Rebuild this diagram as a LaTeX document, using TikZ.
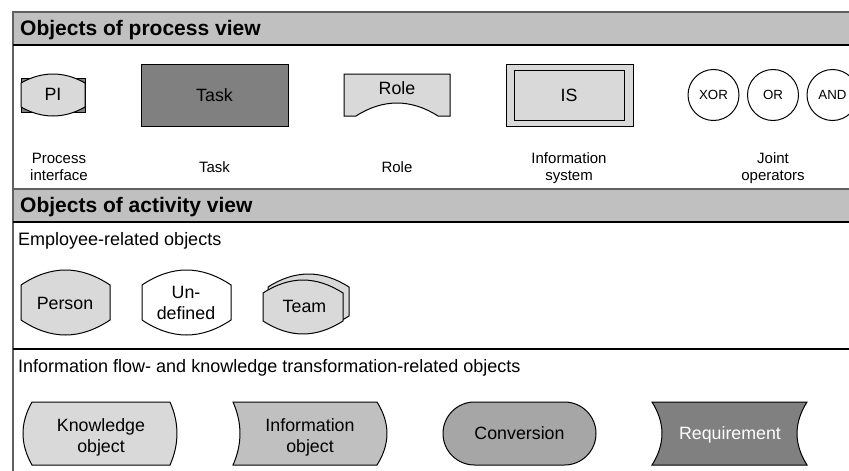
\documentclass[tikz,border=0pt]{standalone}
\usepackage{fontspec}
\setmainfont{Liberation Sans}
\usetikzlibrary{positioning}

\definecolor{hdrgray}{HTML}{C0C0C0}
\definecolor{ltgray}{HTML}{D9D9D9}
\definecolor{midgray}{HTML}{A6A6A6}
\definecolor{dkgray}{HTML}{808080}
\definecolor{framegray}{HTML}{606060}

\begin{document}
\begin{tikzpicture}[
  x=1pt,y=-1pt,
  outline/.style={draw=black,line width=1pt},
  shapetext/.style={font=\fontsize{17.8}{21}\selectfont,align=center,inner sep=0pt},
  caption/.style={font=\fontsize{15}{17}\selectfont,align=center,inner sep=0pt},
  heading/.style={font=\fontsize{21}{25}\selectfont\bfseries,anchor=base west,inner sep=0pt},
  subheading/.style={font=\fontsize{18}{21}\selectfont,anchor=base west,inner sep=0pt},
  joint/.style={circle,outline,fill=white,minimum size=51pt,inner sep=0pt,
    font=\fontsize{13.3}{16}\selectfont}
]
  \useasboundingbox (0,0) rectangle (849,471);
  \clip (0,0) rectangle (849,471);

  % Frame and heading bars
  \fill[hdrgray] (13,12) rectangle (860,45);
  \fill[hdrgray] (13,189) rectangle (860,222);
  \draw[framegray,line width=2pt] (13,480) -- (13,12) -- (860,12);
  \draw[line width=1.2pt] (13,45) -- (860,45);
  \draw[framegray,line width=1.5pt] (13,189) -- (860,189);
  \draw[line width=1.2pt] (13,222) -- (860,222);
  \draw[line width=1.2pt] (13,349) -- (860,349);

  \node[heading]    (hdrproc) at (20,35)  {Objects of process view};
  \node[heading]    (hdract)  at (20,212) {Objects of activity view};
  \node[subheading] (subemp)  at (18,245) {Employee-related objects};
  \node[subheading] (subinfo) at (18,372) {Information flow- and knowledge transformation-related objects};

  % Process view: PI, Task, Role, IS, joint operators
  \draw[outline,fill=dkgray] (21,78) rectangle (85,112);
  \draw[outline,fill=ltgray] (21,83) .. controls (42,71) and (64,71) .. (85,83)
    -- (85,107) .. controls (64,119) and (42,119) .. (21,107) -- cycle;
  \node[shapetext] (pi) at (53,94.5) {PI};

  \node[outline,fill=dkgray,minimum width=147pt,minimum height=62pt,shapetext]
    (task) at (214.5,95) {Task};

  \draw[outline,fill=ltgray] (344,74) -- (450,74) -- (450,116) -- (438,116)
    .. controls (411,98.7) and (383,98.7) .. (356,116) -- (344,116) -- cycle;
  \node[shapetext] (role) at (397,88) {Role};

  \node[outline,fill=ltgray,minimum width=127pt,minimum height=62pt]
    (isframe) at (569.5,95) {};
  \node[outline,fill=ltgray,minimum width=110pt,minimum height=50pt,shapetext]
    (is) at (569,95) {IS};

  \node[joint] (xor) at (713.5,95) {XOR};
  \node[joint,right=7.5pt of xor] (or) {OR};
  \node[joint,right=7.5pt of or] (and) {AND};

  \node[caption] (lblpi)    at (59,167)    {Process\\interface};
  \node[caption] (lbltask)  at (214.5,167.5) {Task};
  \node[caption] (lblrole)  at (397,167.5) {Role};
  \node[caption] (lblis)    at (569,168.5) {Information\\system};
  \node[caption] (lbljoint) at (773,168.5) {Joint\\operators};

  % Activity view: employee-related objects
  \draw[outline,fill=ltgray] (21,285) .. controls (51,265) and (80,265) .. (110,285)
    -- (110,320) .. controls (80,340) and (51,340) .. (21,320) -- cycle;
  \node[shapetext] (person) at (65,303) {Person};

  \draw[outline,fill=white] (142,285) .. controls (172,265) and (201,265) .. (231,285)
    -- (231,320) .. controls (201,340) and (172,340) .. (142,320) -- cycle;
  \node[shapetext] (undef) at (186,302.5) {Un-\\defined};

  \draw[outline,fill=ltgray] (268,287) .. controls (295,269.7) and (322,269.7) .. (349,287)
    -- (349,316) .. controls (322,333.3) and (295,333.3) .. (268,316) -- cycle;
  \draw[outline,fill=ltgray] (263,293) .. controls (290,275.7) and (316,275.7) .. (343,293)
    -- (343,321) .. controls (316,338.3) and (290,338.3) .. (263,321) -- cycle;
  \node[shapetext] (team) at (304.5,306) {Team};

  % Activity view: information flow and knowledge transformation
  \draw[outline,fill=ltgray] (32,402) -- (170,402) .. controls (179.3,423) and (179.3,444) .. (170,465)
    -- (32,465) .. controls (20,444) and (20,423) .. (32,402) -- cycle;
  \node[shapetext] (knowobj) at (101,437) {Knowledge\\object};

  \draw[outline,fill=hdrgray] (233,402) -- (377,402) .. controls (390.3,423) and (390.3,444) .. (377,465)
    -- (233,465) .. controls (242.3,444) and (242.3,423) .. (233,402) -- cycle;
  \node[shapetext] (infoobj) at (310,437) {Information\\object};

  \node[outline,fill=midgray,minimum width=153pt,minimum height=63pt,rounded corners=31.5pt,shapetext]
    (conv) at (519.5,433.5) {Conversion};

  \draw[outline,fill=dkgray] (652,402) -- (807,402) .. controls (793.7,423) and (793.7,444) .. (807,465)
    -- (652,465) .. controls (665.3,444) and (665.3,423) .. (652,402) -- cycle;
  \node[shapetext,text=white] (req) at (730,435) {Requirement};
\end{tikzpicture}
\end{document}
